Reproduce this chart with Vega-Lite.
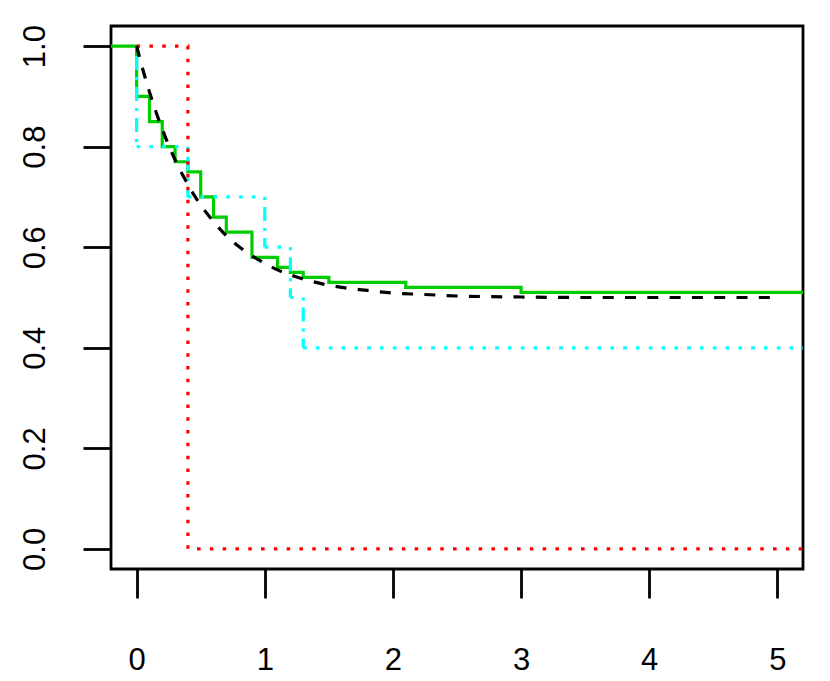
{
  "$schema": "https://vega.github.io/schema/vega-lite/v6.json",
  "autosize": "none",
  "width": 692,
  "height": 543,
  "padding": {"left": 111, "top": 26, "right": 27, "bottom": 112},
  "background": "white",
  "config": {
    "view": {"stroke": "black", "strokeWidth": 2.8},
    "font": "Liberation Sans",
    "axis": {
      "domain": false, "grid": false, "tickColor": "black", "tickWidth": 2.8,
      "labelColor": "black", "labelFont": "Liberation Sans", "labelFontSize": 31,
      "title": null
    }
  },
  "datasets": {
    "km": [
      {"t": -0.2, "s": 1.0}, {"t": 0, "s": 0.9}, {"t": 0.1, "s": 0.85}, {"t": 0.2, "s": 0.8},
      {"t": 0.3, "s": 0.77}, {"t": 0.4, "s": 0.75}, {"t": 0.5, "s": 0.70}, {"t": 0.6, "s": 0.66},
      {"t": 0.7, "s": 0.63}, {"t": 0.9, "s": 0.58}, {"t": 1.1, "s": 0.56}, {"t": 1.2, "s": 0.55},
      {"t": 1.3, "s": 0.54}, {"t": 1.5, "s": 0.53}, {"t": 2.1, "s": 0.52}, {"t": 3.0, "s": 0.51},
      {"t": 5.2, "s": 0.51}
    ],
    "red": [
      {"t": 0, "s": 1.0}, {"t": 0.4, "s": 0.0}, {"t": 5.2, "s": 0.0}
    ],
    "cyanH": [
      {"t": 0, "t2": 0.4, "s": 0.8, "s2": 0.8},
      {"t": 0.4, "t2": 1.0, "s": 0.7, "s2": 0.7},
      {"t": 1.0, "t2": 1.2, "s": 0.6, "s2": 0.6},
      {"t": 1.2, "t2": 1.3, "s": 0.5, "s2": 0.5},
      {"t": 1.3, "t2": 5.2, "s": 0.4, "s2": 0.4}
    ],
    "cyanV": [
      {"t": 0, "t2": 0, "s": 1.0, "s2": 0.8},
      {"t": 0.4, "t2": 0.4, "s": 0.8, "s2": 0.7},
      {"t": 1.0, "t2": 1.0, "s": 0.7, "s2": 0.6},
      {"t": 1.2, "t2": 1.2, "s": 0.6, "s2": 0.5},
      {"t": 1.3, "t2": 1.3, "s": 0.5, "s2": 0.4}
    ],
    "fit": [
      {"t": 0, "s": 1.0}, {"t": 0.05, "s": 0.952}, {"t": 0.1, "s": 0.909}, {"t": 0.15, "s": 0.870},
      {"t": 0.2, "s": 0.835}, {"t": 0.25, "s": 0.803}, {"t": 0.3, "s": 0.774}, {"t": 0.35, "s": 0.748},
      {"t": 0.4, "s": 0.725}, {"t": 0.45, "s": 0.703}, {"t": 0.5, "s": 0.684}, {"t": 0.6, "s": 0.651},
      {"t": 0.7, "s": 0.623}, {"t": 0.8, "s": 0.601}, {"t": 0.9, "s": 0.583}, {"t": 1.0, "s": 0.568},
      {"t": 1.1, "s": 0.555}, {"t": 1.2, "s": 0.545}, {"t": 1.4, "s": 0.530}, {"t": 1.6, "s": 0.520},
      {"t": 1.8, "s": 0.514}, {"t": 2.0, "s": 0.509}, {"t": 2.25, "s": 0.506}, {"t": 2.5, "s": 0.503},
      {"t": 3.0, "s": 0.501}, {"t": 3.5, "s": 0.500}, {"t": 4.0, "s": 0.500}, {"t": 4.5, "s": 0.500},
      {"t": 5.0, "s": 0.500}
    ]
  },
  "layer": [
    {
      "data": {"name": "km"},
      "mark": {"type": "line", "interpolate": "step-after", "color": "#00CD00", "strokeWidth": 3.2, "clip": true},
      "encoding": {
        "x": {"field": "t", "type": "quantitative",
              "scale": {"domain": [-0.2, 5.2], "nice": false, "zero": false},
              "axis": {"values": [0, 1, 2, 3, 4, 5], "tickSize": 29, "labelPadding": 47, "format": "d"}},
        "y": {"field": "s", "type": "quantitative",
              "scale": {"domain": [-0.04, 1.04], "nice": false, "zero": false},
              "axis": {"values": [0, 0.2, 0.4, 0.6, 0.8, 1.0], "format": ".1f", "tickSize": 28,
                       "labelAngle": 270, "labelAlign": "center", "labelBaseline": "alphabetic", "labelPadding": 39}}
      }
    },
    {
      "data": {"name": "cyanH"},
      "mark": {"type": "rule", "color": "#00FFFF", "strokeWidth": 3.2, "strokeDash": [3.5, 9.3], "clip": true},
      "encoding": {
        "x": {"field": "t", "type": "quantitative"},
        "x2": {"field": "t2"},
        "y": {"field": "s", "type": "quantitative"},
        "y2": {"field": "s2"}
      }
    },
    {
      "data": {"name": "cyanV"},
      "mark": {"type": "rule", "color": "#00FFFF", "strokeWidth": 3.2, "strokeDash": [3, 7, 14, 7], "clip": true},
      "encoding": {
        "x": {"field": "t", "type": "quantitative"},
        "x2": {"field": "t2"},
        "y": {"field": "s", "type": "quantitative"},
        "y2": {"field": "s2"}
      }
    },
    {
      "data": {"name": "red"},
      "mark": {"type": "line", "interpolate": "step-after", "color": "#FF0000", "strokeWidth": 3.2, "strokeDash": [3.5, 9.3], "clip": true},
      "encoding": {
        "x": {"field": "t", "type": "quantitative"},
        "y": {"field": "s", "type": "quantitative"}
      }
    },
    {
      "data": {"name": "fit"},
      "mark": {"type": "line", "interpolate": "monotone", "color": "black", "strokeWidth": 3.2, "strokeDash": [11, 11.3], "clip": true},
      "encoding": {
        "x": {"field": "t", "type": "quantitative"},
        "y": {"field": "s", "type": "quantitative"}
      }
    }
  ]
}
